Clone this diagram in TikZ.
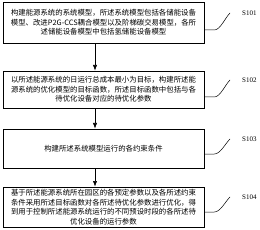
\documentclass[tikz,border=0pt]{standalone}
\usepackage{fontspec}
\setmainfont{Liberation Serif}
\newfontfamily\cjk{Noto Sans CJK SC}
\usetikzlibrary{arrows.meta}

\begin{document}
\begin{tikzpicture}[x=1pt, y=-1pt, >=Latex,
    stepbox/.style={draw, line width=0.6pt, minimum width=201pt, inner sep=0pt,
      align=center, font=\cjk\fontsize{7.4}{9.6}\selectfont},
    steplabel/.style={font=\fontsize{7}{8}\selectfont, inner sep=0pt}]
  \useasboundingbox (0,0) rectangle (260,230);
  \node[stepbox, minimum height=41pt] (s101) at (103.5,22.5)
    {构建能源系统的系统模型，所述系统模型包括各储能设备\\
     模型、改进P2G-CCS耦合模型以及阶梯碳交易模型，各所\\
     述储能设备模型中包括氢储能设备模型};
  \node[stepbox, minimum height=37pt] (s102) at (103.5,89.5)
    {以所述能源系统的日运行总成本最小为目标，构建所述能\\
     源系统的优化模型的目标函数，所述目标函数中包括与各\\
     待优化设备对应的待优化参数};
  \node[stepbox, minimum height=39pt] (s103) at (103.5,148.5)
    {构建所述系统模型运行的各约束条件};
  \node[stepbox, minimum height=40pt] (s104) at (103.5,207)
    {基于所述能源系统所在园区的各预定参数以及各所述约束\\
     条件采用所述目标函数对各所述待优化参数进行优化，得\\
     到用于控制所述能源系统运行的不同预设时段的各所述待\\
     优化设备的运行参数};
  % arrows between the steps
  \foreach \a/\b in {s101/s102, s102/s103, s103/s104} {
    \draw[->, line width=0.6pt] ([xshift=-8.5pt]\a.south) -- ([xshift=-8.5pt]\b.north);
  }
  % step labels with leader lines
  \foreach \s/\t/\ly/\ty in {s101/S101/30/13, s102/S102/97/80, s103/S103/154/139, s104/S104/212/197} {
    \node[steplabel, anchor=west] (\s-lbl) at (242,\ty) {\t};
    \coordinate (\s-end) at (230,\ty);
    \draw[line width=0.5pt] (\s.east |- 0,\ly) -- ++(10,0)
      .. controls +(6,0) and +(-5,5) .. (\s-end);
  }
\end{tikzpicture}
\end{document}
